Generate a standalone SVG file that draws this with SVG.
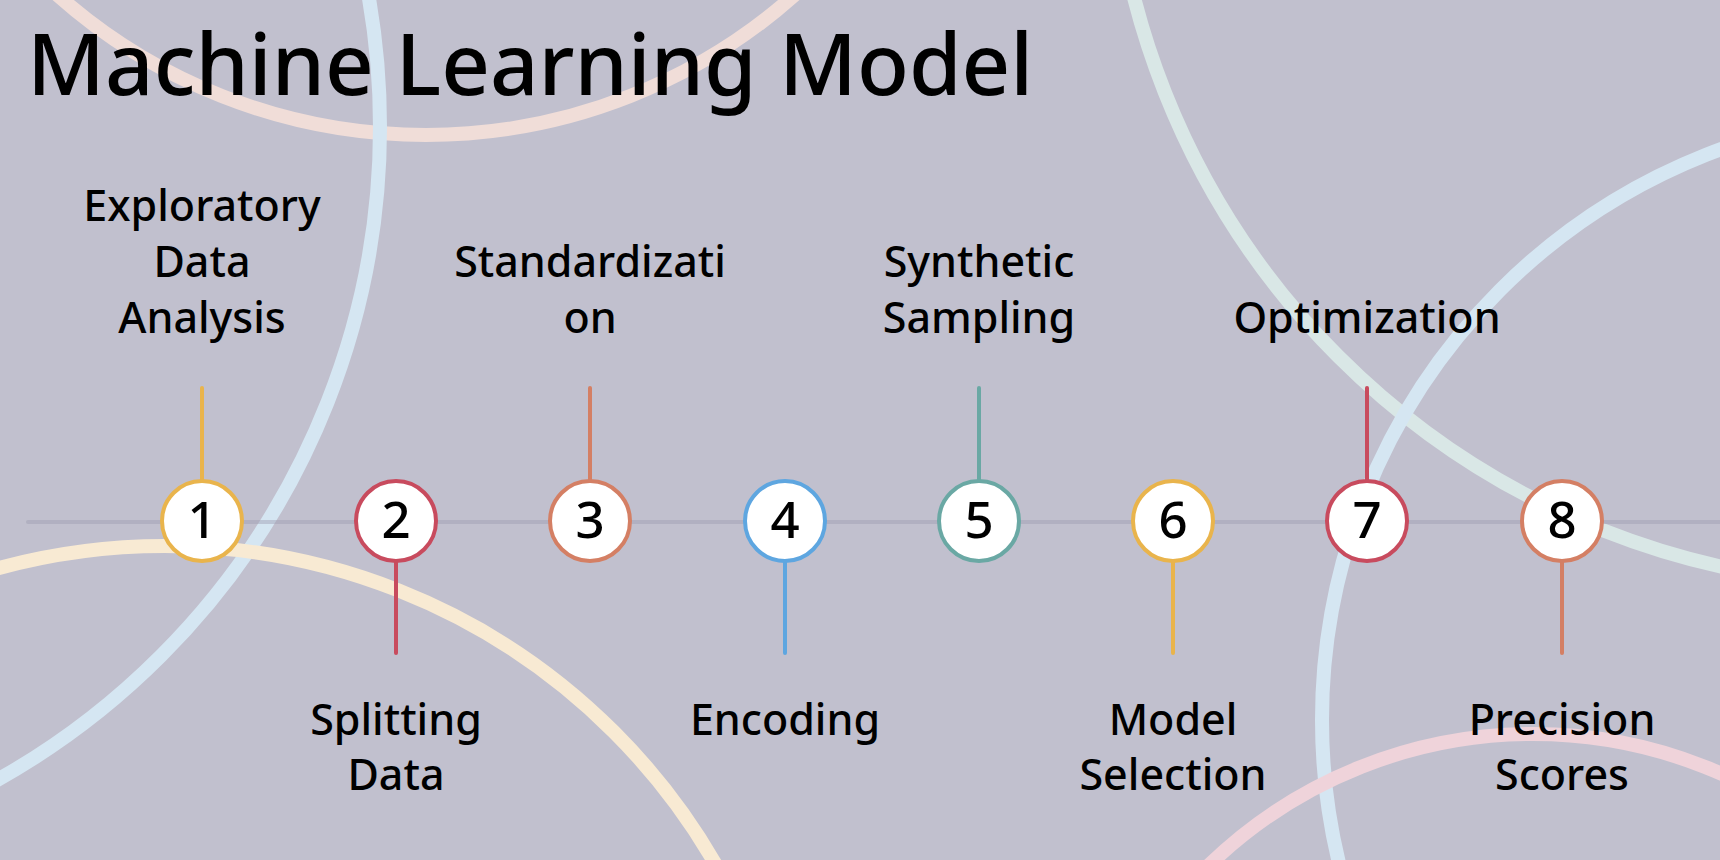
<svg xmlns="http://www.w3.org/2000/svg" width="1720" height="860" viewBox="0 0 1720 860">
<style>
.arc{fill:none;stroke-width:14}
.tl{stroke:#9e9db1;stroke-opacity:0.45;stroke-width:4;stroke-linecap:round}
.con{stroke-width:4;stroke-linecap:round;fill:none}
.node{fill:#ffffff;stroke-width:4}
.num{font-family:"Noto Sans","Open Sans",sans-serif;font-size:51px;font-weight:500;fill:#000;text-anchor:middle}
.lbl{font-family:"Noto Sans","Open Sans",sans-serif;font-size:43px;font-weight:500;fill:#000;text-anchor:middle}
.title{font-family:"Noto Sans","Open Sans",sans-serif;font-size:85px;font-weight:500;fill:#000}
.y{stroke:#e9b44c}
.r{stroke:#c84b5e}
.o{stroke:#d47f64}
.b{stroke:#5ea6e0}
.t{stroke:#6aa8a4}
</style>
<rect x="0" y="0" width="1720" height="860" fill="#c1c0ce"/>
<g id="background">
<circle class="arc" cx="426" cy="-420" r="555" stroke="#f0ddd8"/>
<circle class="arc" cx="-368" cy="127" r="748" stroke="#d5e6f2"/>
<circle class="arc" cx="165" cy="1181" r="635" stroke="#f8ead3"/>
<circle class="arc" cx="1890" cy="-195" r="780" stroke="#d9e7e6"/>
<circle class="arc" cx="1930" cy="720" r="608" stroke="#d5e6f2"/>
<circle class="arc" cx="1533" cy="1200" r="466" stroke="#efd3da"/>
</g>
<text id="title" class="title" x="27" y="95">Machine Learning Model</text>
<g id="connectors">
<line class="tl" x1="28" y1="522" x2="1720" y2="522"/>
<line class="con y" x1="202" y1="388" x2="202" y2="480"/>
<line class="con r" x1="396" y1="562" x2="396" y2="653"/>
<line class="con o" x1="590" y1="388" x2="590" y2="480"/>
<line class="con b" x1="785" y1="562" x2="785" y2="653"/>
<line class="con t" x1="979" y1="388" x2="979" y2="480"/>
<line class="con y" x1="1173" y1="562" x2="1173" y2="653"/>
<line class="con r" x1="1367" y1="388" x2="1367" y2="480"/>
<line class="con o" x1="1562" y1="562" x2="1562" y2="653"/>
</g>
<g id="node1"><circle class="node y" cx="202" cy="521" r="40"/><text class="num" x="202" y="538">1</text>
<text class="lbl" x="202" y="221">Exploratory</text><text class="lbl" x="202" y="277">Data</text><text class="lbl" x="202" y="333">Analysis</text></g>
<g id="node2"><circle class="node r" cx="396" cy="521" r="40"/><text class="num" x="396" y="538">2</text>
<text class="lbl" x="396" y="735">Splitting</text><text class="lbl" x="396" y="790">Data</text></g>
<g id="node3"><circle class="node o" cx="590" cy="521" r="40"/><text class="num" x="590" y="538">3</text>
<text class="lbl" x="590" y="277">Standardizati</text><text class="lbl" x="590" y="333">on</text></g>
<g id="node4"><circle class="node b" cx="785" cy="521" r="40"/><text class="num" x="785" y="538">4</text>
<text class="lbl" x="785" y="735">Encoding</text></g>
<g id="node5"><circle class="node t" cx="979" cy="521" r="40"/><text class="num" x="979" y="538">5</text>
<text class="lbl" x="979" y="277">Synthetic</text><text class="lbl" x="979" y="333">Sampling</text></g>
<g id="node6"><circle class="node y" cx="1173" cy="521" r="40"/><text class="num" x="1173" y="538">6</text>
<text class="lbl" x="1173" y="735">Model</text><text class="lbl" x="1173" y="790">Selection</text></g>
<g id="node7"><circle class="node r" cx="1367" cy="521" r="40"/><text class="num" x="1367" y="538">7</text>
<text class="lbl" x="1367" y="333">Optimization</text></g>
<g id="node8"><circle class="node o" cx="1562" cy="521" r="40"/><text class="num" x="1562" y="538">8</text>
<text class="lbl" x="1562" y="735">Precision</text><text class="lbl" x="1562" y="790">Scores</text></g>
</svg>
